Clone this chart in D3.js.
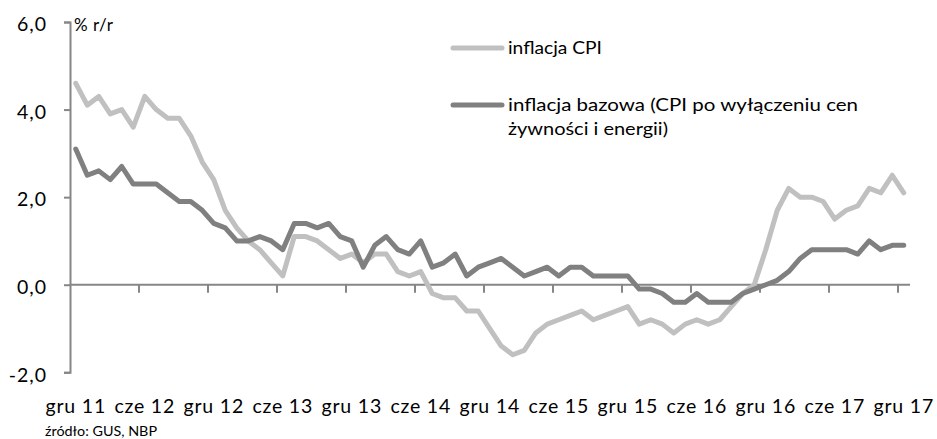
<!DOCTYPE html>
<html><head><meta charset="utf-8">
<script src="https://cdn.jsdelivr.net/npm/d3@7"></script>
<style>
html,body{margin:0;padding:0;background:#fff;}
svg{display:block;font-family:Lato,"Open Sans",sans-serif;}
</style></head>
<body><svg id="c" width="937" height="439"></svg>
<script>
const months = ["sty","lut","mar","kwi","maj","cze","lip","sie","wrz","paź","lis","gru"];
const categories = ["gru 11"];
for (let y = 12; y <= 17; y++) for (let m = 0; m < 12; m++) categories.push(months[m] + " " + y);

const cpi = [4.6, 4.1, 4.3, 3.9, 4.0, 3.6, 4.3, 4.0, 3.8, 3.8, 3.4, 2.8, 2.4,
  1.7, 1.3, 1.0, 0.8, 0.5, 0.2, 1.1, 1.1, 1.0, 0.8, 0.6, 0.7,
  0.5, 0.7, 0.7, 0.3, 0.2, 0.3, -0.2, -0.3, -0.3, -0.6, -0.6, -1.0,
  -1.4, -1.6, -1.5, -1.1, -0.9, -0.8, -0.7, -0.6, -0.8, -0.7, -0.6, -0.5,
  -0.9, -0.8, -0.9, -1.1, -0.9, -0.8, -0.9, -0.8, -0.5, -0.2, 0.0, 0.8,
  1.7, 2.2, 2.0, 2.0, 1.9, 1.5, 1.7, 1.8, 2.2, 2.1, 2.5, 2.1];
const core = [3.1, 2.5, 2.6, 2.4, 2.7, 2.3, 2.3, 2.3, 2.1, 1.9, 1.9, 1.7, 1.4,
  1.3, 1.0, 1.0, 1.1, 1.0, 0.8, 1.4, 1.4, 1.3, 1.4, 1.1, 1.0,
  0.4, 0.9, 1.1, 0.8, 0.7, 1.0, 0.4, 0.5, 0.7, 0.2, 0.4, 0.5,
  0.6, 0.4, 0.2, 0.3, 0.4, 0.2, 0.4, 0.4, 0.2, 0.2, 0.2, 0.2,
  -0.1, -0.1, -0.2, -0.4, -0.4, -0.2, -0.4, -0.4, -0.4, -0.2, -0.1, 0.0,
  0.1, 0.3, 0.6, 0.8, 0.8, 0.8, 0.8, 0.7, 1.0, 0.8, 0.9, 0.9];
const yTicks = [-2, 0, 2, 4, 6];
const seriesNames = ["inflacja CPI", "inflacja bazowa (CPI po wyłączeniu cen", "żywności i energii)"];
const yUnit = "% r/r";
const source = "źródło:  GUS, NBP";

const svg = d3.select("#c");
const axisColor = "#868686";
const x = d3.scaleBand().domain(categories).range([70, 909.5]).padding(0);
const cx = c => x(c) + x.bandwidth() / 2;
const y = d3.scaleLinear().domain([-2, 6]).range([372.3, 22]);

// Y axis
const yAx = svg.append("g").attr("transform", "translate(70,0)")
  .call(d3.axisLeft(y).tickValues(yTicks).tickSize(6).tickPadding(10)
    .tickFormat(d => d3.format(".1f")(d).replace(".", ",").replace("−", "-")));
yAx.select(".domain").attr("stroke", axisColor).attr("stroke-width", 2);
yAx.selectAll(".tick line").attr("stroke", axisColor).attr("stroke-width", 2);
yAx.selectAll(".tick text").attr("fill", "#000").attr("x", -23).attr("dy", "0.45em")
  .style("font-size", "19.5px").style("letter-spacing", "1px")
  .style("font-family", "Lato, sans-serif");

svg.append("text").attr("x", 74).attr("y", 31).attr("fill", "#000")
  .style("font-size", "17px").style("letter-spacing", "0.5px").text(yUnit);

// X axis (zero line)
const y0 = y(0);
svg.append("line").attr("x1", 70).attr("x2", 910).attr("y1", y0).attr("y2", y0)
  .attr("stroke", axisColor).attr("stroke-width", 2);
const tickCats = categories.filter((c, i) => i % 6 === 0);
const boundaries = tickCats.slice(1).map(c => x(c));
svg.selectAll("line.xt").data(boundaries).join("line")
  .attr("class", "xt").attr("x1", d => d).attr("x2", d => d)
  .attr("y1", y0).attr("y2", y0 + 8).attr("stroke", axisColor).attr("stroke-width", 2);
svg.selectAll("text.xl").data(tickCats).join("text").attr("class", "xl")
  .attr("x", c => cx(c)).attr("y", 413).attr("text-anchor", "middle")
  .attr("fill", "#000").style("font-size", "19.5px").style("letter-spacing", "0.8px").text(c => c);

svg.append("text").attr("x", 45).attr("y", 436).attr("fill", "#000")
  .style("font-size", "14px").attr("textLength", 112).attr("lengthAdjust", "spacingAndGlyphs").text(source);

// Lines
const line = vals => d3.line().x((v, i) => cx(categories[i])).y(v => y(v))(vals);
svg.append("path").attr("d", line(cpi)).attr("fill", "none").attr("stroke", "#c0c0c0")
  .attr("stroke-width", 5).attr("stroke-linejoin", "round").attr("stroke-linecap", "round");
svg.append("path").attr("d", line(core)).attr("fill", "none").attr("stroke", "#808080")
  .attr("stroke-width", 5).attr("stroke-linejoin", "round").attr("stroke-linecap", "round");

// Legend
const lg = svg.append("g");
lg.append("line").attr("x1", 453).attr("x2", 502).attr("y1", 48).attr("y2", 48)
  .attr("stroke", "#c0c0c0").attr("stroke-width", 5).attr("stroke-linecap", "round");
lg.append("line").attr("x1", 453).attr("x2", 502).attr("y1", 105).attr("y2", 105)
  .attr("stroke", "#808080").attr("stroke-width", 5).attr("stroke-linecap", "round");
const legendTexts = [
  {t: seriesNames[0], y: 54, w: 94},
  {t: seriesNames[1], y: 111, w: 350},
  {t: seriesNames[2], y: 135, w: 160}
];
lg.selectAll("text").data(legendTexts).join("text")
  .attr("x", 508).attr("y", d => d.y).attr("fill", "#000")
  .style("font-size", "18px").attr("textLength", d => d.w).attr("lengthAdjust", "spacingAndGlyphs")
  .text(d => d.t);
</script></body></html>
